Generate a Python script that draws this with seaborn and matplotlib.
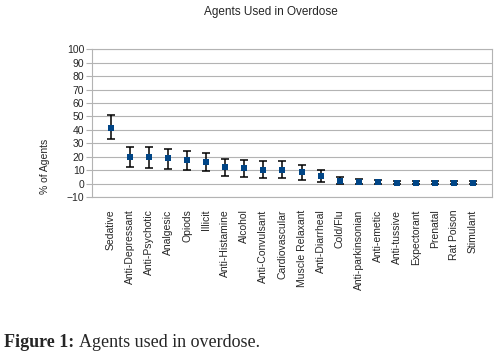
import numpy as np
import pandas as pd
import matplotlib
matplotlib.use("Agg")
import matplotlib.pyplot as plt
import seaborn as sns

# ------------------------------
# Data
# ------------------------------
agents = ["Sedative", "Anti-Depressant", "Anti-Psychotic", "Analgesic", "Opiods",
          "Illicit", "Anti-Histamine", "Alcohol", "Anti-Convulsant", "Cardiovascular",
          "Muscle Relaxant", "Anti-Diarrheal", "Cold/Flu", "Anti-parkinsonian",
          "Anti-emetic", "Anti-tussive", "Expectorant", "Prenatal", "Rat Poison", "Stimulant"]
pct = [41.5, 20.0, 19.5, 18.8, 17.5, 16.2, 12.5, 11.3, 10.5, 10.5,
       8.8, 5.8, 2.2, 1.5, 1.0, 0.7, 0.7, 0.7, 0.7, 0.7]
err_lo = [8.5, 7.5, 7.5, 7.8, 7.0, 7.0, 6.5, 6.0, 6.0, 6.0,
          5.8, 4.3, 2.4, 1.8, 1.5, 1.2, 1.2, 1.2, 1.2, 1.2]
err_hi = [9.5, 7.5, 7.5, 6.7, 7.0, 6.3, 6.0, 6.0, 6.0, 6.0,
          5.2, 4.5, 2.8, 2.0, 1.5, 1.2, 1.2, 1.2, 1.2, 1.2]
y_ticks = list(range(-10, 101, 10))

df = pd.DataFrame({"agent": agents, "pct": pct})

sns.set_theme(style="white")
plt.rcParams["font.family"] = ["Liberation Sans", "DejaVu Sans"]

fig = plt.figure(figsize=(5.01, 3.57), dpi=100)
ax = fig.add_axes([0.1836, 0.448, 0.7984, 0.414])

ax.errorbar(df["agent"], df["pct"], yerr=[err_lo, err_hi], fmt="none",
            ecolor="black", elinewidth=1.1, capsize=3, capthick=1.1, zorder=3)
sns.scatterplot(data=df, x="agent", y="pct", marker="s", s=16, color="#004586",
                edgecolor="#004586", linewidth=0, ax=ax, zorder=4)

ax.set_xlim(-1, len(agents))
ax.set_ylim(-10, 100)
ax.set_yticks(y_ticks)
ax.yaxis.grid(True, color="#b3b3b3", linewidth=0.8)
ax.set_axisbelow(True)
for s in ax.spines.values():
    s.set_color("#b3b3b3")
    s.set_linewidth(0.8)

ax.tick_params(axis="y", which="both", left=True, length=4, width=0.8,
               color="#b3b3b3", labelsize=7.5, pad=1.5)
ax.tick_params(axis="x", bottom=False, labelsize=7.5, pad=3)
ax.set_xticks(range(len(agents)))
ax.set_xticklabels(agents, rotation=90)
ax.set_xlabel("")
ax.set_ylabel("% of Agents", fontsize=7.5)
ax.yaxis.set_label_coords(-0.105, 0.21)

fig.text(0.54, 0.965, "Agents Used in Overdose", ha="center", va="center", fontsize=8.5)

# caption below the chart
cap1 = fig.text(0.008, 0.028, "Figure 1:", fontsize=13, fontweight="bold",
                family="Liberation Serif", ha="left", va="baseline")
fig.canvas.draw()
bb = cap1.get_window_extent()
x1 = bb.x1 / fig.bbox.width
fig.text(x1 + 0.009, 0.028, "Agents used in overdose.", fontsize=13,
         family="Liberation Serif", ha="left", va="baseline")

fig.savefig("out.png", dpi=100)
